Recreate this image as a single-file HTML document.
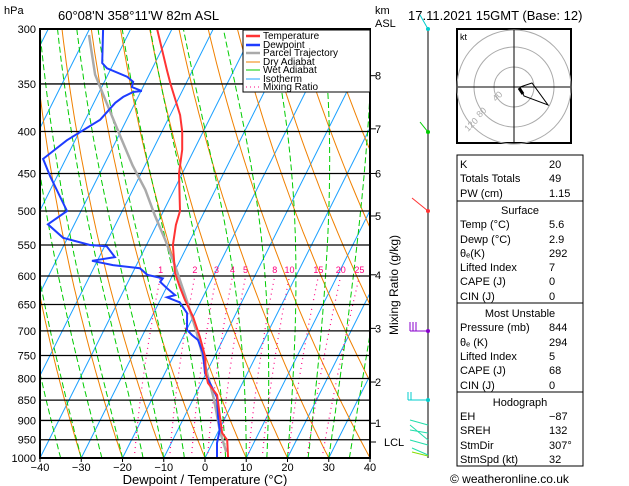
<!DOCTYPE html>
<html><head><meta charset="utf-8"><style>
body{margin:0;background:#fff;width:629px;height:486px;overflow:hidden;font-family:"Liberation Sans",sans-serif}
svg{display:block}
text{font-family:"Liberation Sans",sans-serif;font-size:11px;fill:#000}
</style></head><body>
<svg id="c" width="629" height="486"></svg>
<script>
// ---- data ----
const tempP=[300,337,350,382,400,421,450,500,520,550,595,619,642,673,712,753,788,810,838,932,951,1000];
const tempT=[-63.6,-56.2,-53.7,-47.6,-45.1,-42.9,-40.8,-36,-35.3,-33.6,-29.7,-26.8,-24,-20,-15.9,-12.2,-10.1,-8.4,-4.7,1.1,3.2,5.6];
const dewP=[300,330,335,343,348,353,357,358,363,369,387,410,432,454,500,519,539,550,552,569,575,582,587,598,604,610,621,633,637,646,666,698,708,718,745,788,843,891,925,959,1000];
const dewT=[-76.7,-72.8,-71,-65.1,-63,-62.7,-59.8,-61.8,-63.6,-64.8,-66.4,-72,-75.5,-71.6,-63.4,-66.4,-61.1,-53.7,-49.5,-46.2,-51.3,-45.7,-38.8,-36.2,-32,-32.2,-29.8,-27,-28.7,-25,-21.9,-19.9,-18.1,-16,-13.2,-10.3,-4.5,-1.8,0.2,1.1,2.9];
const parcelP=[983,925,850,770,698,633,582,542,506,471,440,404,371,341,305];
const parcelT=[4.4,0.2,-4.8,-11.3,-17.7,-24.6,-30.7,-36.1,-41.6,-47,-53,-59.8,-66.5,-73.1,-79.4];
const pLevels=[300,350,400,450,500,550,600,650,700,750,800,850,900,950,1000];
const tTicks=[-40,-30,-20,-10,0,10,20,30,40];
const mixRatios=[1,2,3,4,5,8,10,15,20,25];
const kmLabels=["8","7","6","5","4","3","2","1"];
const kmP=[342,397,450,507,598,695,808,907];
// ---- axes ----
const X0=40,X1=370,Y0=29,Y1=458;
const NS="http://www.w3.org/2000/svg",svg=document.getElementById('c');
function yP(p){return Y0+Math.log(p/300)/Math.log(1000/300)*(Y1-Y0);}
function xT(t,p){return X0+(t+40)*(X1-X0)/80+0.5*(Y1-yP(p));}
function el(tag,a,parent){const e=document.createElementNS(NS,tag);for(const k in a)e.setAttribute(k,a[k]);(parent||svg).appendChild(e);return e;}
function txt(x,y,s,a,parent){const e=el('text',Object.assign({x:x,y:y},a||{}),parent);e.textContent=s;return e;}
const defs=el('defs',{});const cp=el('clipPath',{id:'pc'},defs);el('rect',{x:X0,y:Y0,width:X1-X0,height:Y1-Y0},cp);
const bg=el('g',{'clip-path':'url(#pc)'});

function polyPts(ps,ts){return ps.map((p,i)=>xT(ts[i],p).toFixed(1)+','+yP(p).toFixed(1)).join(' ');}
for(let t=-120;t<=40;t+=10){const l=el('line',{x1:xT(t,1000),y1:Y1,x2:xT(t,300),y2:Y0,stroke:'#1aa0ff','stroke-width':1},bg);}
for(let t=-40;t<=140;t+=10){const th=t+273.15,ps=[],ts=[];for(let p=1000;p>=300;p-=10){ps.push(p);ts.push(th*Math.pow(p/1000,0.286)-273.15);}
const l=el('polyline',{points:polyPts(ps,ts),fill:'none',stroke:'#f08000','stroke-width':1},bg);}
function es(T){return 6.112*Math.exp(17.67*T/(T+243.5));}
for(let t0=-40;t0<=40;t0+=5){let T=t0+273.15;const ps=[],ts=[];for(let p=1000;p>=300;p-=5){ps.push(p);ts.push(T-273.15);const e=es(T-273.15),rs=0.622*e/(p-e);const L=2.5e6,Rd=287,cp=1004;const dTdp=(Rd*T+L*rs)/(p*(cp+L*L*rs*0.622/(Rd*T*T)));T-=dTdp*5;}
const l=el('polyline',{points:polyPts(ps,ts),fill:'none',stroke:'#00cc00','stroke-width':1,'stroke-dasharray':'6,3'},bg);}
mixRatios.forEach(w=>{const ps=[],ts=[];for(let p=1000;p>=600;p-=10){const e=w*p/(622+w),g=Math.log(e/6.112);ps.push(p);ts.push(243.5*g/(17.67-g)-(10-0.22*w)*(1000-p)/400);}
const l=el('polyline',{points:polyPts(ps,ts),fill:'none',stroke:'#ff0080','stroke-width':1.2,'stroke-dasharray':'1,4'},bg);
const lb=txt(xT(ts[ts.length-1],600),273,String(w),{'text-anchor':'middle',style:'fill:#ff0080;font-size:9px'});});
pLevels.forEach(p=>{const l=el('line',{x1:X0,x2:X1,y1:yP(p),y2:yP(p),stroke:'#000','stroke-width':1.3});
const t=txt(36,yP(p)+4,String(p),{'text-anchor':'end'});});
const pt=el('polyline',{points:polyPts(parcelP,parcelT),fill:'none',stroke:'#aaa','stroke-width':2.5,'clip-path':'url(#pc)'});
const dw=el('polyline',{points:polyPts(dewP,dewT),fill:'none',stroke:'#1e3cff','stroke-width':2,'clip-path':'url(#pc)'});
const tp=el('polyline',{points:polyPts(tempP,tempT),fill:'none',stroke:'#ff3333','stroke-width':2,'clip-path':'url(#pc)'});
el('rect',{x:X0,y:Y0,width:X1-X0,height:Y1-Y0,fill:'none',stroke:'#000','stroke-width':2});
tTicks.forEach(t=>{const x=X0+(t+40)*(X1-X0)/80;el('line',{x1:x,x2:x,y1:Y1,y2:Y1+4,stroke:'#000'});const l=txt(x,471,String(t).replace('-','\u2212'),{'text-anchor':'middle','font-size':'12'});});
kmP.forEach((p,i)=>{el('line',{x1:X1,x2:X1+6,y1:yP(p),y2:yP(p),stroke:'#000'});txt(375,yP(p)+4,kmLabels[i],{});});
el('line',{x1:X1,x2:X1+6,y1:442,y2:442,stroke:'#000'});txt(384,446,'LCL',{});
</script>
<svg style="position:absolute;left:0;top:0" width="629" height="486">
<text x="4" y="14">hPa</text>
<text x="58" y="20" style="font-size:13px">60°08'N  358°11'W  82m  ASL</text>
<text x="375" y="14">km</text>
<text x="375" y="27">ASL</text>
<text x="408" y="20" style="font-size:13px">17.11.2021 15GMT (Base: 12)</text>
<text x="205" y="484" text-anchor="middle" style="font-size:13px">Dewpoint / Temperature (°C)</text>
<text transform="translate(398,335) rotate(-90)" style="font-size:12px">Mixing Ratio (g/kg)</text>
<g style="font-size:10px">
<rect x="243" y="30" width="127" height="62" fill="#fff" stroke="#000"/>
<line x1="246" y1="36" x2="260" y2="36" stroke="#ff3333" stroke-width="2.5"/><text x="263" y="39" style="font-size:10px">Temperature</text>
<line x1="246" y1="45" x2="260" y2="45" stroke="#1e3cff" stroke-width="2.5"/><text x="263" y="48" style="font-size:10px">Dewpoint</text>
<line x1="246" y1="53" x2="260" y2="53" stroke="#aaa" stroke-width="2.5"/><text x="263" y="56" style="font-size:10px">Parcel Trajectory</text>
<line x1="246" y1="62" x2="260" y2="62" stroke="#f08000"/><text x="263" y="65" style="font-size:10px">Dry Adiabat</text>
<line x1="246" y1="70" x2="260" y2="70" stroke="#00cc00"/><text x="263" y="73" style="font-size:10px">Wet Adiabat</text>
<line x1="246" y1="79" x2="260" y2="79" stroke="#1aa0ff"/><text x="263" y="82" style="font-size:10px">Isotherm</text>
<line x1="246" y1="87" x2="260" y2="87" stroke="#ff0080" stroke-dasharray="1,3"/><text x="263" y="90" style="font-size:10px">Mixing Ratio</text>
</g>
<g>
<line x1="428" y1="29" x2="428" y2="458" stroke="#000"/>
<polyline points="420,15 428,29" stroke="#00cccc" fill="none"/><circle cx="428" cy="29" r="2" fill="#00cccc"/>
<polyline points="420,122 428,132" stroke="#00cc00" fill="none"/><circle cx="428" cy="132" r="2" fill="#00cc00"/>
<polyline points="412,198 428,211 M412,200 418,206" stroke="#ff3333" fill="none"/><circle cx="428" cy="211" r="2" fill="#ff3333"/>
<line x1="410" y1="331" x2="428" y2="331" stroke="#8800cc"/><path d="M410,322v9M413,322v9M416,322v9" stroke="#8800cc"/><circle cx="428" cy="331" r="2" fill="#8800cc"/>
<line x1="408" y1="400" x2="428" y2="400" stroke="#00cccc"/><path d="M408,392v8M411,392v8" stroke="#00cccc"/><circle cx="428" cy="400" r="2" fill="#00cccc"/>
<path d="M410,420L428,425M410,430L428,433M410,440L428,445M412,448L428,455M410,425L428,440" stroke="#22ddaa" fill="none"/>
<path d="M412,452L428,456" stroke="#88dd00"/>
</g>
<g>
<rect x="457" y="29" width="114" height="114" fill="#fff" stroke="#000" stroke-width="2"/>
<circle cx="514" cy="87" r="20" fill="none" stroke="#aaa"/>
<circle cx="514" cy="87" r="40" fill="none" stroke="#aaa"/>
<circle cx="514" cy="87" r="57" fill="none" stroke="#aaa"/>
<line x1="458" y1="87" x2="570" y2="87" stroke="#000"/><line x1="514" y1="30" x2="514" y2="142" stroke="#000"/>
<text x="460" y="40" style="font-size:9px">kt</text>
<text x="496" y="102" style="font-size:9px;fill:#aaa" transform="rotate(-45 496 102)">40</text>
<text x="480" y="118" style="font-size:9px;fill:#aaa" transform="rotate(-45 480 118)">80</text>
<text x="468" y="132" style="font-size:9px;fill:#aaa" transform="rotate(-45 468 132)">120</text>
<path d="M520,87L524,96L548,105L532,83Z" fill="none" stroke="#000"/>
<path d="M519,88l4,6" stroke="#000" stroke-width="3"/>
</g>
<g style="font-size:11px">
<rect x="457" y="155" width="126" height="311" fill="none" stroke="#000"/>
<line x1="457" y1="201" x2="583" y2="201" stroke="#000"/>
<line x1="457" y1="303" x2="583" y2="303" stroke="#000"/>
<line x1="457" y1="392" x2="583" y2="392" stroke="#000"/>
<text x="460" y="168">K</text><text x="549" y="168">20</text>
<text x="460" y="182">Totals Totals</text><text x="549" y="182">49</text>
<text x="460" y="197">PW (cm)</text><text x="549" y="197">1.15</text>
<text x="520" y="214" text-anchor="middle">Surface</text>
<text x="460" y="228">Temp (°C)</text><text x="549" y="228">5.6</text>
<text x="460" y="243">Dewp (°C)</text><text x="549" y="243">2.9</text>
<text x="460" y="257">θₑ(K)</text><text x="549" y="257">292</text>
<text x="460" y="271">Lifted Index</text><text x="549" y="271">7</text>
<text x="460" y="285">CAPE (J)</text><text x="549" y="285">0</text>
<text x="460" y="300">CIN (J)</text><text x="549" y="300">0</text>
<text x="520" y="317" text-anchor="middle">Most Unstable</text>
<text x="460" y="331">Pressure (mb)</text><text x="549" y="331">844</text>
<text x="460" y="346">θₑ (K)</text><text x="549" y="346">294</text>
<text x="460" y="360">Lifted Index</text><text x="549" y="360">5</text>
<text x="460" y="374">CAPE (J)</text><text x="549" y="374">68</text>
<text x="460" y="389">CIN (J)</text><text x="549" y="389">0</text>
<text x="520" y="406" text-anchor="middle">Hodograph</text>
<text x="460" y="420">EH</text><text x="549" y="420">−87</text>
<text x="460" y="434">SREH</text><text x="549" y="434">132</text>
<text x="460" y="449">StmDir</text><text x="549" y="449">307°</text>
<text x="460" y="463">StmSpd (kt)</text><text x="549" y="463">32</text>
</g>
<text x="450" y="483" style="font-size:12px">© weatheronline.co.uk</text>
</svg>
<style>#c{position:absolute;left:0;top:0}</style>
</body></html>
